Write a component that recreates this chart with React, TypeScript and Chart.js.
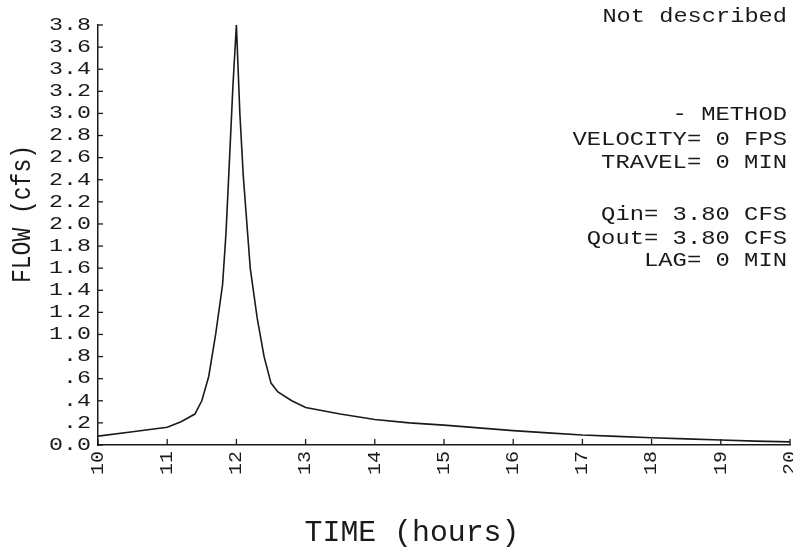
import React, { useEffect, useRef } from "react";
import { Chart, registerables } from "chart.js";

Chart.register(...registerables);

const hours = [10, 10.5, 11, 11.2, 11.4, 11.5, 11.6, 11.7, 11.8, 11.85, 11.9, 11.95, 12.0, 12.05, 12.1, 12.2, 12.3, 12.4, 12.5, 12.6, 12.8, 13, 13.5, 14, 14.5, 15, 15.5, 16, 16.5, 17, 17.5, 18, 18.5, 19, 19.5, 20];
const flows = [0.08, 0.12, 0.16, 0.21, 0.28, 0.4, 0.62, 1.0, 1.45, 1.92, 2.58, 3.25, 3.8, 3.0, 2.43, 1.6, 1.15, 0.8, 0.56, 0.48, 0.4, 0.34, 0.28, 0.23, 0.2, 0.18, 0.155, 0.13, 0.11, 0.09, 0.078, 0.065, 0.055, 0.045, 0.035, 0.028];

const xTicks = [10, 11, 12, 13, 14, 15, 16, 17, 18, 19, 20];
const yTicks = [0, 0.2, 0.4, 0.6, 0.8, 1.0, 1.2, 1.4, 1.6, 1.8, 2.0, 2.2, 2.4, 2.6, 2.8, 3.0, 3.2, 3.4, 3.6, 3.8];

const titleText = "Not described";
const infoLines = ["- METHOD", "VELOCITY= 0 FPS", "TRAVEL= 0 MIN", "", "Qin= 3.80 CFS", "Qout= 3.80 CFS", "LAG= 0 MIN"];
const xTitle = "TIME (hours)";
const yTitle = "FLOW (cfs)";

const FONT = "'Liberation Mono', 'DejaVu Sans Mono', monospace";
const INK = "#1a1a1a";

function fmtY(v: number): string {
  if (Math.abs(v) < 1e-9) return "0.0";
  const s = v.toFixed(1);
  return v < 1 ? s.slice(1) : s;
}

// draw text with controlled char advance
function drawText(
  ctx: CanvasRenderingContext2D,
  text: string,
  x: number,
  y: number,
  size: number,
  advance: number,
  align: "left" | "right" | "center",
  rot = 0
) {
  ctx.save();
  ctx.font = `${size}px ${FONT}`;
  ctx.fillStyle = INK;
  ctx.textBaseline = "middle";
  ctx.textAlign = "left";
  const natural = ctx.measureText(text).width;
  const target = advance * text.length;
  const sx = natural > 0 ? target / natural : 1;
  ctx.translate(x, y);
  if (rot) ctx.rotate(rot);
  let start = 0;
  if (align === "right") start = -target;
  else if (align === "center") start = -target / 2;
  ctx.translate(start, 0);
  ctx.scale(sx, 1);
  ctx.fillText(text, 0, 0);
  ctx.restore();
}

const decorPlugin = {
  id: "decor",
  afterDraw(chart: any) {
    const ctx: CanvasRenderingContext2D = chart.ctx;
    const xs = chart.scales.x;
    const ys = chart.scales.y;
    const area = chart.chartArea;
    ctx.save();
    ctx.strokeStyle = INK;
    ctx.lineWidth = 1.3;
    // inward ticks
    xTicks.forEach((t) => {
      const px = xs.getPixelForValue(t);
      ctx.beginPath();
      ctx.moveTo(px, area.bottom);
      ctx.lineTo(px, area.bottom - 6);
      ctx.stroke();
      drawText(ctx, String(t), px, area.bottom + 6, 18, 12, "right", -Math.PI / 2);
    });
    yTicks.forEach((t) => {
      const py = ys.getPixelForValue(t);
      ctx.beginPath();
      ctx.moveTo(area.left, py);
      ctx.lineTo(area.left + 5, py);
      ctx.stroke();
      drawText(ctx, fmtY(t), area.left - 7, py, 18, 14, "right");
    });
    ctx.restore();

    // titles
    drawText(ctx, yTitle, 23, 214, 28, 13.8, "center", -Math.PI / 2);
    drawText(ctx, xTitle, 412, 533, 29, 17.9, "center");

    // info text
    drawText(ctx, titleText, 787, 16, 21, 14.2, "right");
    const ys0 = [114, 139, 162, 188, 214, 238, 260];
    infoLines.forEach((l, i) => {
      if (l) drawText(ctx, l, 787, ys0[i], 21, 14.3, "right");
    });
  },
};

export default function App() {
  const ref = useRef<HTMLCanvasElement | null>(null);
  useEffect(() => {
    if (!ref.current) return;
    const chart = new Chart(ref.current, {
      type: "line",
      data: {
        datasets: [
          {
            data: hours.map((h, i) => ({ x: h, y: flows[i] })),
            borderColor: INK,
            borderWidth: 1.6,
            pointRadius: 0,
            tension: 0,
            fill: false,
          },
        ],
      },
      options: {
        animation: false,
        responsive: true,
        maintainAspectRatio: false,
        layout: { padding: { left: 0, right: 3, top: 25, bottom: 0 } },
        plugins: { legend: { display: false }, tooltip: { enabled: false }, title: { display: false } },
        scales: {
          x: {
            type: "linear",
            min: 10,
            max: 20,
            ticks: { display: false, stepSize: 1 },
            grid: { display: false, drawTicks: false },
            border: { display: true, color: INK, width: 1.5 },
            afterFit: (s: any) => {
              s.height = 103;
            },
          },
          y: {
            min: 0,
            max: 3.8,
            ticks: { display: false, stepSize: 0.2 },
            grid: { display: false, drawTicks: false },
            border: { display: true, color: INK, width: 1.5 },
            afterFit: (s: any) => {
              s.width = 98;
            },
          },
        },
      },
      plugins: [decorPlugin],
    });
    return () => chart.destroy();
  }, []);
  return (
    <div style={{ position: "fixed", left: 0, top: 0, width: 793, height: 548, background: "#fff" }}>
      <canvas ref={ref} />
    </div>
  );
}
